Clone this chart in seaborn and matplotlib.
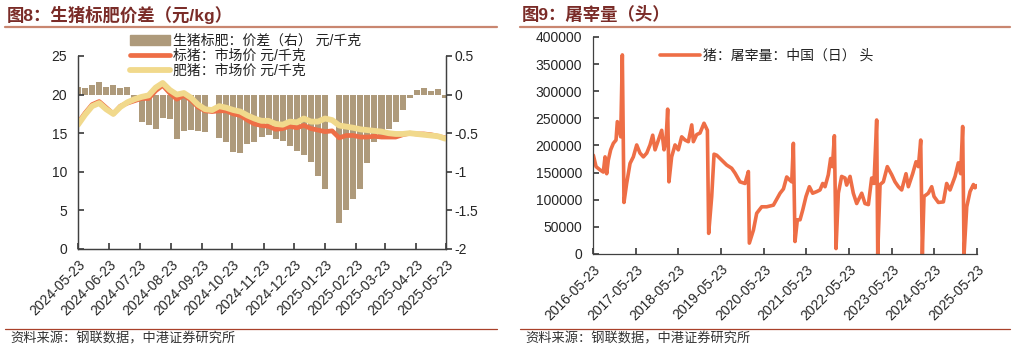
import numpy as np
import pandas as pd
import seaborn as sns
import matplotlib.pyplot as plt
from matplotlib.lines import Line2D
from matplotlib.patches import Patch

sns.set_theme(style="ticks")
plt.rcParams['font.family'] = ['Liberation Sans', 'Noto Sans CJK SC']
plt.rcParams['axes.unicode_minus'] = False

# ---- left chart: weekly readings, 2024-05-23 .. 2025-05-22
week_dates = pd.date_range("2024-05-23", periods=53, freq="7D")
spread = [0.10, 0.08, 0.12, 0.16, 0.10, 0.12, 0.08, 0.10, -0.06, -0.36,
          -0.40, -0.44, -0.30, -0.32, -0.57, -0.47, -0.46, -0.47, -0.48, np.nan,
          -0.56, -0.62, -0.74, -0.76, -0.64, -0.62, -0.55, -0.52, -0.58, -0.60,
          -0.66, -0.73, -0.78, -0.87, -1.05, -1.22, np.nan, -1.66, -1.50, -1.35,
          -1.22, -0.88, -0.62, -0.55, -0.45, -0.35, -0.20, -0.05, 0.06, 0.08,
          0.05, 0.07, -0.05]
std_hog = [16.3, 17.6, 18.7, 19.1, 18.3, 17.5, 18.5, 18.9, 19.2, 19.5,
           19.5, 20.5, 21.2, 20.2, 19.4, 19.9, 19.3, 18.4, 17.9, 17.8,
           17.9, 17.9, 17.5, 17.3, 16.7, 16.2, 16.0, 15.9, 15.5, 15.6,
           15.9, 15.7, 16.0, 15.6, 15.4, 15.2, 15.3, 14.4, 14.7, 14.7,
           14.5, 14.5, 14.6, 14.5, 14.5, 14.5, 14.8, 15.0, 14.9, 14.9,
           14.8, 14.6, 14.4]
fat_hog = [16.1, 17.4, 18.5, 18.9, 18.1, 17.5, 18.4, 19.0, 19.4, 19.7,
           19.9, 20.9, 21.5, 20.6, 20.0, 20.2, 19.6, 18.7, 18.1, 18.0,
           18.5, 18.3, 18.0, 17.8, 17.3, 16.9, 16.6, 16.6, 16.2, 16.1,
           16.5, 16.4, 16.9, 16.5, 16.5, 16.9, 16.7, 16.0, 15.85, 15.7,
           15.5, 15.4, 15.3, 15.2, 15.0, 14.9, 14.9, 15.0, 14.9, 14.8,
           14.7, 14.6, 14.3]
left_ticks = ["2024-05-23", "2024-06-23", "2024-07-23", "2024-08-23", "2024-09-23",
              "2024-10-23", "2024-11-23", "2024-12-23", "2025-01-23", "2025-02-23",
              "2025-03-23", "2025-04-23", "2025-05-23"]

# ---- right chart: daily slaughter, days after 2016-05-23
slaughter_day = [3, 26, 60, 88, 103, 117, 131, 151, 174, 197, 208, 225, 237, 251, 265,
                 288, 317, 345, 374, 402, 431, 460, 488, 511, 531, 559, 588, 608, 625,
                 639, 650, 673, 702, 730, 759, 788, 816, 845, 859, 887, 916, 950, 979,
                 990, 1016, 1036, 1059, 1101, 1144, 1187, 1216, 1258, 1301, 1330, 1338,
                 1373, 1401, 1444, 1487, 1544, 1601, 1630, 1658, 1685, 1701, 1715, 1729,
                 1749, 1772, 1795, 1823, 1852, 1880, 1915, 1943, 1966, 1986, 2014, 2034,
                 2049, 2066, 2080, 2100, 2128, 2157, 2171, 2200, 2228, 2257, 2300, 2328,
                 2357, 2385, 2405, 2428, 2437, 2457, 2485, 2519, 2557, 2585, 2614, 2642,
                 2679, 2699, 2736, 2765, 2785, 2805, 2819, 2833, 2870, 2899, 2919, 2956,
                 2999, 3027, 3056, 3099, 3127, 3147, 3164, 3176, 3199, 3227, 3256, 3270,
                 3285]
slaughter = [182000, 161000, 155000, 151000, 179000, 148000, 173000, 192000, 204000, 210000,
             244000, 228000, 216000, 367000, 95000,
             130000, 167000, 179000, 201000, 186000, 179000, 186000, 201000, 219000, 192000,
             210000, 228000, 192000, 210000,
             267000, 133000, 179000, 201000, 192000, 216000, 210000, 207000, 238000, 207000,
             220000, 223000, 241000, 228000,
             38000, 106000, 184000, 182000, 173000, 164000, 158000, 149000, 133000, 130000,
             152000, 20000,
             44000, 75000, 87000, 87000, 90000, 112000, 120000, 142000, 136000, 133000,
             204000, 23000,
             63000, 63000, 81000, 106000, 124000, 112000, 115000, 118000, 130000, 124000,
             146000, 176000,
             161000, 218000, 10000, 112000, 143000, 140000, 127000, 143000, 112000, 93000,
             112000, 93000,
             91000, 140000, 130000, 247000, 0, 128000, 133000, 161000, 146000, 133000,
             124000, 118000,
             148000, 124000, 148000, 170000, 161000, 210000, 0, 106000, 112000, 124000,
             106000, 95000,
             96000, 130000, 118000, 143000, 168000, 148000, 235000, 0, 87000, 115000,
             128000, 122000,
             126000]
right_ticks = ["2016-05-23", "2017-05-23", "2018-05-23", "2019-05-23", "2020-05-23",
               "2021-05-23", "2022-05-23", "2023-05-23", "2024-05-23", "2025-05-23"]

c_bar = "#AE9A7B"
c_std = "#EE6E46"
c_fat = "#F1D98C"
c_title = "#7A2C28"
c_spine = "#404040"

left_df = pd.DataFrame({"date": week_dates, "std": std_hog, "fat": fat_hog, "spread": spread})
right_df = pd.DataFrame({"date": pd.Timestamp("2016-05-23") + pd.to_timedelta(slaughter_day, unit="D"),
                         "value": slaughter})

fig = plt.figure(figsize=(10.17, 3.51), dpi=100)

# ================= left chart
ax = fig.add_axes([0.0767, 0.2906, 0.3619, 0.5499])
ax2 = ax.twinx()
ax2.bar(left_df["date"], left_df["spread"], width=6, color=c_bar, linewidth=0)
sns.lineplot(data=left_df, x="date", y="std", ax=ax, color=c_std, linewidth=3.4)
sns.lineplot(data=left_df, x="date", y="fat", ax=ax, color=c_fat, linewidth=4.2)
ax.set_zorder(ax2.get_zorder() + 1)
ax.patch.set_visible(False)

ax.set_xlim(pd.Timestamp(left_ticks[0]), pd.Timestamp(left_ticks[-1]))
ax.set_ylim(0, 25)
ax.set_yticks([0, 5, 10, 15, 20, 25])
ax2.set_ylim(-2, 0.5)
ax2.set_yticks([-2, -1.5, -1, -0.5, 0, 0.5])
ax2.set_yticklabels(["-2", "-1.5", "-1", "-0.5", "0", "0.5"])
ax.set_xticks(pd.to_datetime(left_ticks))
ax.set_xticklabels(left_ticks, rotation=45, ha="right", rotation_mode="anchor")
ax.set_xlabel("")
ax.set_ylabel("")

for a in (ax, ax2):
    a.spines["top"].set_visible(False)
    for s in ("left", "right", "bottom"):
        a.spines[s].set_color(c_spine)
        a.spines[s].set_linewidth(0.9)
ax.tick_params(axis="y", direction="in", length=4, pad=8, labelsize=10, color=c_spine)
ax.tick_params(axis="x", direction="in", length=4, pad=6, labelsize=10, color=c_spine)
ax2.tick_params(axis="y", direction="out", length=4, pad=2, labelsize=10, color=c_spine)

handles = [Patch(color=c_bar), Line2D([], [], color=c_std, lw=3.4), Line2D([], [], color=c_fat, lw=4.2)]
labels = ["生猪标肥：价差（右） 元/千克", "标猪：市场价 元/千克", "肥猪：市场价 元/千克"]
fig.legend(handles, labels, loc="upper left", bbox_to_anchor=(0.128, 0.903), frameon=False,
           fontsize=10, handlelength=2.9, handletextpad=0.2, labelspacing=0.05,
           borderpad=0, borderaxespad=0, labelcolor="#222222")

# ================= right chart
bx = fig.add_axes([0.5831, 0.2764, 0.3776, 0.6182])
sns.lineplot(data=right_df, x="date", y="value", ax=bx, color=c_std, linewidth=2.6)
bx.set_xlim(pd.Timestamp(right_ticks[0]), pd.Timestamp(right_ticks[-1]))
bx.set_ylim(0, 400000)
bx.set_yticks(range(0, 400001, 50000))
bx.set_yticklabels([str(v) for v in range(0, 400001, 50000)])
bx.set_xticks(pd.to_datetime(right_ticks))
bx.set_xticklabels(right_ticks, rotation=45, ha="right", rotation_mode="anchor")
bx.set_xlabel("")
bx.set_ylabel("")
for s in ("top", "right"):
    bx.spines[s].set_visible(False)
for s in ("left", "bottom"):
    bx.spines[s].set_color(c_spine)
    bx.spines[s].set_linewidth(0.9)
bx.tick_params(axis="y", direction="in", length=4, pad=8, labelsize=10, color=c_spine)
bx.tick_params(axis="x", direction="in", length=4, pad=6, labelsize=10, color=c_spine)
fig.legend([Line2D([], [], color=c_std, lw=2.6)], ["猪：屠宰量：中国（日） 头"],
           loc="upper left", bbox_to_anchor=(0.649, 0.861), frameon=False, fontsize=10,
           handlelength=2.9, handletextpad=0.2, borderpad=0, borderaxespad=0,
           labelcolor="#222222")

# ================= titles, rules, source
for x0, x1, title in [(5, 497, "图8：生猪标肥价差（元/kg）"), (520, 1010, "图9：屠宰量（头）")]:
    fig.text((x0 + 2) / 1017, 0.958, title, fontsize=12.5, fontweight="bold",
             color=c_title, va="center", ha="left")
    fig.add_artist(Line2D([x0 / 1017, x1 / 1017], [0.922, 0.922], color="#C98670", lw=1.6))
    fig.add_artist(Line2D([x0 / 1017, x1 / 1017], [0.0627, 0.0627], color="#A9412A", lw=0.9))
    fig.text((x0 + 5) / 1017, 0.034, "资料来源：钢联数据，中港证券研究所", fontsize=9.5,
             style="italic", color="#333333", va="center", ha="left")

fig.savefig("out.png", dpi=100)
